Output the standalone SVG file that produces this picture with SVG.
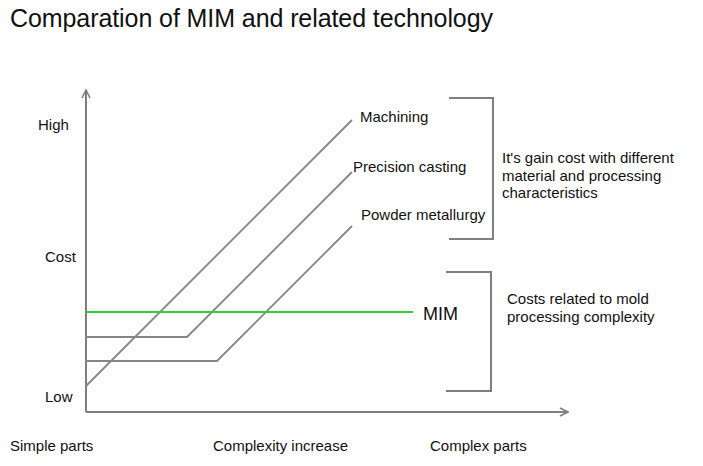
<svg xmlns="http://www.w3.org/2000/svg" width="703" height="466" viewBox="0 0 703 466">
<style>
text{font-family:"Liberation Sans",Arial,sans-serif;fill:#111}
.lbl{font-size:15px}
.axis{stroke:#7f7f7f;stroke-width:2;fill:none}
.tech{stroke:#858585;stroke-width:1.8;fill:none}
.br{stroke:#7f7f7f;stroke-width:2;fill:none}
</style>
<defs>
<marker id="arr" viewBox="0 0 10 10" refX="9" refY="5" markerWidth="10" markerHeight="10" markerUnits="userSpaceOnUse" orient="auto">
<path d="M1,1 L9,5 L1,9" fill="none" stroke="#7f7f7f" stroke-width="1.6"/>
</marker>
</defs>
<rect width="703" height="466" fill="#fff"/>
<text x="10" y="27" font-size="25" textLength="483">Comparation of MIM and related technology</text>
<g id="axes">
<line class="axis" x1="86" y1="412" x2="86" y2="90" marker-end="url(#arr)"/>
<line class="axis" x1="86" y1="412" x2="568" y2="412" marker-end="url(#arr)"/>
<text class="lbl" x="38" y="130">High</text>
<text class="lbl" x="45" y="262">Cost</text>
<text class="lbl" x="45" y="402">Low</text>
<text class="lbl" x="10" y="451">Simple parts</text>
<text class="lbl" x="213" y="451">Complexity increase</text>
<text class="lbl" x="430" y="451">Complex parts</text>
</g>
<g id="connectors">
<polyline id="machining-line" class="tech" points="86,386 352,120"/>
<polyline id="casting-line" class="tech" points="86,337 187,337 352,172"/>
<polyline id="powder-line" class="tech" points="86,361 217,361 352,226"/>
<line id="mim-line" x1="86" y1="312" x2="413" y2="312" stroke="#33cc33" stroke-width="2"/>
</g>
<g id="machining"><text class="lbl" x="360" y="122">Machining</text></g>
<g id="precision-casting"><text class="lbl" x="353" y="172">Precision casting</text></g>
<g id="powder-metallurgy"><text class="lbl" x="361" y="220">Powder metallurgy</text></g>
<g id="mim"><text x="423" y="320" font-size="18">MIM</text></g>
<g id="bracket-material">
<polyline class="br" points="449,98 493,98 493,239 449,239"/>
<text class="lbl" x="502" y="163">It's gain cost with different</text>
<text class="lbl" x="502" y="181">material and processing</text>
<text class="lbl" x="502" y="198">characteristics</text>
</g>
<g id="bracket-mold">
<polyline class="br" points="446,272 491,272 491,391 446,391"/>
<text class="lbl" x="507" y="304">Costs related to mold</text>
<text class="lbl" x="507" y="322">processing complexity</text>
</g>
</svg>
